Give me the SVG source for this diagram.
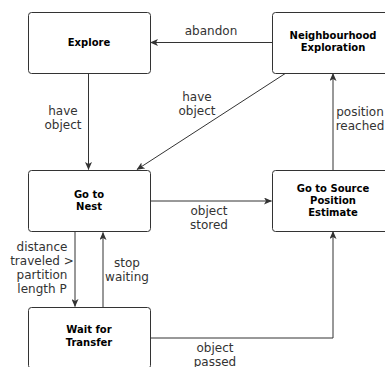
<svg xmlns="http://www.w3.org/2000/svg" width="385" height="367" viewBox="0 0 385 367">
  <style>
    .box { fill: #ffffff; stroke: #333333; stroke-width: 1; }
    .title { font-family: "DejaVu Sans", sans-serif; font-size: 10px; font-weight: bold; fill: #000000; text-anchor: middle; }
    .lbl { font-family: "DejaVu Sans", sans-serif; font-size: 12px; fill: #333333; text-anchor: middle; }
    .edge { fill: none; stroke: #333333; stroke-width: 1; marker-end: url(#arrow); }
  </style>
  <defs>
    <marker id="arrow" viewBox="0 0 8 7" refX="7.5" refY="3.5" markerWidth="8" markerHeight="7" markerUnits="userSpaceOnUse" orient="auto">
      <path d="M0,0 L8,3.5 L0,7 L2,3.5 z" fill="#333333"/>
    </marker>
  </defs>
  <rect width="385" height="367" fill="#ffffff"/>

  <g id="connectors">
    <!-- Neighbourhood Exploration -> Explore -->
    <path class="edge" d="M272,42.5 L150.5,42.5"/>
    <text class="lbl" x="211" y="35">abandon</text>
    <!-- Explore -> Go to Nest -->
    <path class="edge" d="M88.5,73 L88.5,169.5"/>
    <text class="lbl" x="63" y="115">have</text>
    <text class="lbl" x="63" y="129">object</text>
    <!-- Neighbourhood Exploration -> Go to Nest -->
    <path class="edge" d="M286,73 L137,169.5"/>
    <text class="lbl" x="197" y="101">have</text>
    <text class="lbl" x="197" y="115">object</text>
    <!-- Go to Source Position Estimate -> Neighbourhood Exploration -->
    <path class="edge" d="M333,170 L333,73.5"/>
    <text class="lbl" x="360" y="116">position</text>
    <text class="lbl" x="360" y="130">reached</text>
    <!-- Go to Nest -> Go to Source Position Estimate -->
    <path class="edge" d="M150,201 L271.5,201"/>
    <text class="lbl" x="209" y="215">object</text>
    <text class="lbl" x="209" y="229">stored</text>
    <!-- Go to Nest -> Wait for Transfer -->
    <path class="edge" d="M75,232 L75,306.5"/>
    <text class="lbl" x="42" y="251">distance</text>
    <text class="lbl" x="42" y="265">traveled &gt;</text>
    <text class="lbl" x="42" y="279">partition</text>
    <text class="lbl" x="42" y="293">length P</text>
    <!-- Wait for Transfer -> Go to Nest -->
    <path class="edge" d="M103,307 L103,232.5"/>
    <text class="lbl" x="127" y="267">stop</text>
    <text class="lbl" x="127" y="281">waiting</text>
    <!-- Wait for Transfer -> Go to Source Position Estimate -->
    <path class="edge" d="M150,338 L333,338 L333,231.5"/>
    <text class="lbl" x="215" y="352">object</text>
    <text class="lbl" x="215" y="366">passed</text>
  </g>

  <g id="explore">
    <rect class="box" x="28.5" y="12.5" width="122" height="61" rx="3"/>
    <text class="title" x="89" y="46">Explore</text>
  </g>
  <g id="neighbourhood-exploration">
    <rect class="box" x="272.5" y="12.5" width="122" height="61" rx="3"/>
    <text class="title" x="333" y="39">Neighbourhood</text>
    <text class="title" x="333" y="51">Exploration</text>
  </g>
  <g id="go-to-nest">
    <rect class="box" x="28.5" y="170.5" width="122" height="61" rx="3"/>
    <text class="title" x="89" y="198">Go to</text>
    <text class="title" x="89" y="210">Nest</text>
  </g>
  <g id="go-to-source">
    <rect class="box" x="272.5" y="170.5" width="122" height="61" rx="3"/>
    <text class="title" x="333" y="192">Go to Source</text>
    <text class="title" x="333" y="204">Position</text>
    <text class="title" x="333" y="216">Estimate</text>
  </g>
  <g id="wait-for-transfer">
    <rect class="box" x="28.5" y="307.5" width="122" height="61" rx="3"/>
    <text class="title" x="89" y="333">Wait for</text>
    <text class="title" x="89" y="346">Transfer</text>
  </g>
</svg>
